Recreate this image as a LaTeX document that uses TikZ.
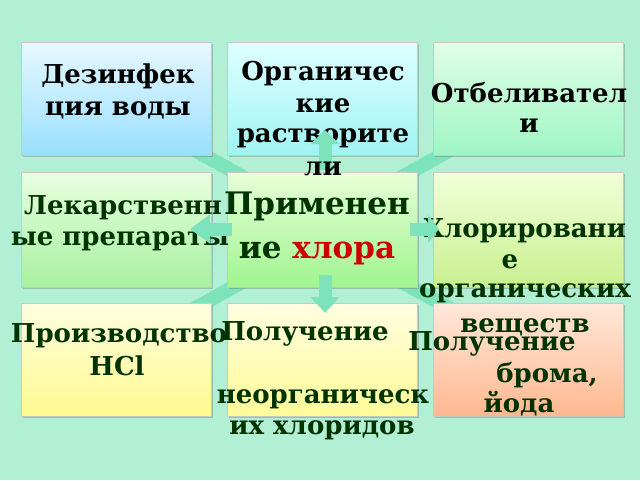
\documentclass[tikz,border=0pt]{standalone}
\usepackage{fontspec}
\setmainfont{DejaVu Serif}
\usetikzlibrary{arrows.meta,shadows}
\definecolor{bg}{HTML}{B2F0D5}
\definecolor{arr}{HTML}{7DE3BD}
\definecolor{tgreen}{HTML}{003300}
\definecolor{tred}{HTML}{CC0000}
\definecolor{bord}{HTML}{C8C8C8}
\definecolor{t11}{HTML}{E6F8FF}\definecolor{u11}{HTML}{9ADFFF}
\definecolor{t12}{HTML}{E0FFFF}\definecolor{u12}{HTML}{A0F4F4}
\definecolor{t13}{HTML}{E0FFE6}\definecolor{u13}{HTML}{A0F5C4}
\definecolor{t21}{HTML}{E8FFE0}\definecolor{u21}{HTML}{A8F0A0}
\definecolor{t22}{HTML}{E8FFD8}\definecolor{u22}{HTML}{A0F490}
\definecolor{t23}{HTML}{F2FFD8}\definecolor{u23}{HTML}{C8F090}
\definecolor{t31}{HTML}{FFFDE0}\definecolor{u31}{HTML}{FFFA90}
\definecolor{t32}{HTML}{FFFDE0}\definecolor{u32}{HTML}{FFFB98}
\definecolor{t33}{HTML}{FFE8DA}\definecolor{u33}{HTML}{FFB890}
\tikzset{
  cell/.style={draw=bord, line width=0.8pt, minimum width=190pt, minimum height=113pt,
    inner sep=0pt, outer sep=0pt,
    drop shadow={shadow xshift=1.5pt, shadow yshift=-2pt, opacity=0.35, fill=black!60}},
  lbl/.style={anchor=base, inner sep=0pt, font=\bfseries\fontsize{26}{31}\selectfont},
  big/.style={anchor=base, inner sep=0pt, font=\bfseries\fontsize{31}{44}\selectfont, text=tgreen},
  grn/.style={lbl, text=tgreen},
  blk/.style={lbl, text=black},
  arrow/.style={draw=arr, line width=13pt, -{Triangle[width=28pt,length=#1]}},
  diag/.style={draw=arr, line width=14pt, -{Triangle[width=30pt,length=14pt]}}
}
\begin{document}
\begin{tikzpicture}[x=1pt,y=-1pt]
\fill[bg] (0,0) rectangle (640,480);
\useasboundingbox (0,0) rectangle (640,480);
% diagonal arrows (behind boxes)
\coordinate (d1s) at (262,187.5); \coordinate (d1e) at (150,125);
\coordinate (d2s) at (383,187.5); \coordinate (d2e) at (495,125);
\coordinate (d3s) at (261,271.5); \coordinate (d3e) at (150,333.5);
\coordinate (d4s) at (383,271.5); \coordinate (d4e) at (495,333.5);
\draw[diag] (d1s) -- (d1e);
\draw[diag] (d2s) -- (d2e);
\draw[diag] (d3s) -- (d3e);
\draw[diag] (d4s) -- (d4e);
% boxes
\node[cell, top color=t11, bottom color=u11] (b11) at (116,98.5) {};
\node[cell, top color=t12, bottom color=u12] (b12) at (322.5,98.5) {};
\node[cell, top color=t13, bottom color=u13] (b13) at (528,98.5) {};
\node[cell, top color=t21, bottom color=u21, minimum height=115pt] (b21) at (116,229.5) {};
\node[cell, top color=t22, bottom color=u22, minimum height=115pt] (b22) at (322.5,229.5) {};
\node[cell, top color=t23, bottom color=u23, minimum height=115pt] (b23) at (528,229.5) {};
\node[cell, top color=t31, bottom color=u31] (b31) at (116,359.5) {};
\node[cell, top color=t32, bottom color=u32] (b32) at (322.5,359.5) {};
\node[cell, top color=t33, bottom color=u33] (b33) at (528,359.5) {};
% texts
\node[blk] (s11a) at (118,83) {Дезинфек};
\node[blk] (s11b) at (118,115) {ция воды};
\node[blk] (s12a) at (323,80) {Органичес};
\node[blk] (s12b) at (323,112) {кие};
\node[blk] (s12c) at (323,142) {растворите};
\node[blk] (s13a) at (529,102) {Отбеливател};
\node[blk] (s13b) at (529,132) {и};
\node[grn] (s21a) at (123,214) {Лекарственн};
\node[grn] (s21b) at (120,245) {ые препараты};
\node[big] (s22a) at (317,214) {Применен};
\node[big] (s22b) at (317,258) {ие \textcolor{tred}{хлора}};
\node[grn] (s23a) at (525,237) {Хлорировани};
\node[grn] (s23b) at (510,268) {е};
\node[grn] (s23c) at (525,297) {органических};
\node[grn] (s23d) at (525,332) {веществ};
\node[grn] (s31a) at (119,342) {Производство};
\node[grn] (s31b) at (117,375) {HCl};
\node[grn] (s32a) at (305,340) {Получение};
\node[grn] (s32b) at (323,403) {неорганическ};
\node[grn] (s32c) at (322,434) {их хлоридов};
\node[grn] (s33a) at (492,350) {Получение};
\node[grn] (s33b) at (547,382) {брома,};
\node[grn] (s33c) at (519,412) {йода};
% straight arrows
\coordinate (au1) at (325,170); \coordinate (au2) at (325,130);
\coordinate (ad1) at (325,275); \coordinate (ad2) at (325,313);
\coordinate (ar1) at (410,229); \coordinate (ar2) at (439,229);
\coordinate (al1) at (232,229); \coordinate (al2) at (190,229);
\draw[arrow=14pt] (au1) -- (au2);
\draw[arrow=16pt] (ad1) -- (ad2);
\draw[arrow=11pt] (ar1) -- (ar2);
\draw[arrow=20pt] (al1) -- (al2);
\node[blk] (s12d) at (323,175) {ли};
\end{tikzpicture}
\end{document}
